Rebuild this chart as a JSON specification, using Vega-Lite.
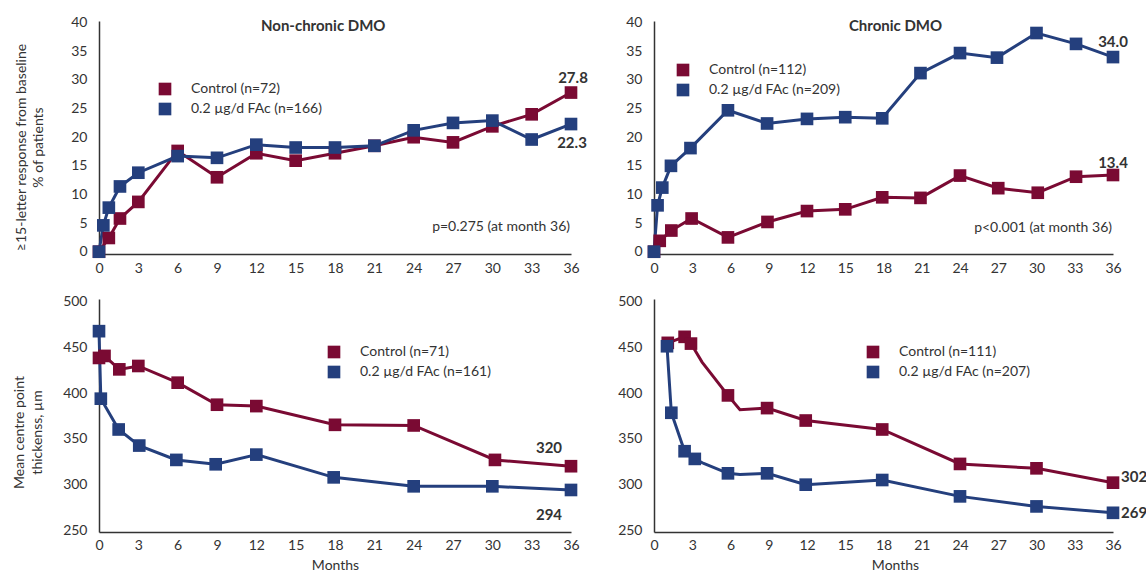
{
  "$schema": "https://vega.github.io/schema/vega-lite/v6.json",
  "padding": {"left": 12, "top": 15, "right": 0, "bottom": 0},
  "background": "white",
  "config": {
    "font": "Lato",
    "view": {"stroke": null},
    "axis": {"grid": false, "ticks": false, "domainColor": "#333333", "domainWidth": 1.5, "labelColor": "#333333", "labelFontSize": 14, "labelFont": "Lato", "titleColor": "#333333", "titleFontSize": 14, "titleFontWeight": "normal", "titleFont": "Lato", "labelFlush": false, "labelOverlap": false},
    "legend": {"disable": false, "symbolType": "square", "symbolSize": 160, "symbolStrokeWidth": 0, "labelFontSize": 14, "labelColor": "#333333", "labelFont": "Lato", "rowPadding": 6, "labelOffset": 19},
    "text": {"font": "Lato", "color": "#333333"}
  },
  "datasets": {
    "nc_bcva": [
      {"month": 0, "group": "Control", "value": 0},
      {"month": 0.75, "group": "Control", "value": 2.4},
      {"month": 1.6, "group": "Control", "value": 5.8},
      {"month": 3, "group": "Control", "value": 8.7},
      {"month": 6, "group": "Control", "value": 17.6},
      {"month": 9, "group": "Control", "value": 13.0},
      {"month": 12, "group": "Control", "value": 17.2},
      {"month": 15, "group": "Control", "value": 15.9},
      {"month": 18, "group": "Control", "value": 17.2},
      {"month": 21, "group": "Control", "value": 18.5},
      {"month": 24, "group": "Control", "value": 20.0},
      {"month": 27, "group": "Control", "value": 19.1},
      {"month": 30, "group": "Control", "value": 21.9},
      {"month": 33, "group": "Control", "value": 24.0},
      {"month": 36, "group": "Control", "value": 27.8},
      {"month": 0, "group": "FAc", "value": 0},
      {"month": 0.33, "group": "FAc", "value": 4.6},
      {"month": 0.75, "group": "FAc", "value": 7.7},
      {"month": 1.6, "group": "FAc", "value": 11.4},
      {"month": 3, "group": "FAc", "value": 13.8},
      {"month": 6, "group": "FAc", "value": 16.7},
      {"month": 9, "group": "FAc", "value": 16.4},
      {"month": 12, "group": "FAc", "value": 18.7},
      {"month": 15, "group": "FAc", "value": 18.2},
      {"month": 18, "group": "FAc", "value": 18.2},
      {"month": 21, "group": "FAc", "value": 18.5},
      {"month": 24, "group": "FAc", "value": 21.2},
      {"month": 27, "group": "FAc", "value": 22.5},
      {"month": 30, "group": "FAc", "value": 22.9},
      {"month": 33, "group": "FAc", "value": 19.6},
      {"month": 36, "group": "FAc", "value": 22.3}
    ],
    "c_bcva": [
      {"month": 0, "group": "Control", "value": 0},
      {"month": 0.45, "group": "Control", "value": 1.9},
      {"month": 1.36, "group": "Control", "value": 3.7},
      {"month": 2.95, "group": "Control", "value": 5.8},
      {"month": 5.8, "group": "Control", "value": 2.5},
      {"month": 8.9, "group": "Control", "value": 5.2},
      {"month": 12, "group": "Control", "value": 7.1},
      {"month": 15, "group": "Control", "value": 7.4},
      {"month": 17.9, "group": "Control", "value": 9.5},
      {"month": 20.9, "group": "Control", "value": 9.4},
      {"month": 24, "group": "Control", "value": 13.3},
      {"month": 27, "group": "Control", "value": 11.1},
      {"month": 30.1, "group": "Control", "value": 10.3},
      {"month": 33.1, "group": "Control", "value": 13.1},
      {"month": 36, "group": "Control", "value": 13.4},
      {"month": 0, "group": "FAc", "value": 0},
      {"month": 0.28, "group": "FAc", "value": 8.1},
      {"month": 0.65, "group": "FAc", "value": 11.2},
      {"month": 1.33, "group": "FAc", "value": 15.0},
      {"month": 2.86, "group": "FAc", "value": 18.1},
      {"month": 5.8, "group": "FAc", "value": 24.7},
      {"month": 8.87, "group": "FAc", "value": 22.4},
      {"month": 12, "group": "FAc", "value": 23.2},
      {"month": 15, "group": "FAc", "value": 23.5},
      {"month": 17.9, "group": "FAc", "value": 23.3},
      {"month": 20.9, "group": "FAc", "value": 31.2},
      {"month": 24, "group": "FAc", "value": 34.7},
      {"month": 26.9, "group": "FAc", "value": 33.9},
      {"month": 30, "group": "FAc", "value": 38.2},
      {"month": 33.1, "group": "FAc", "value": 36.3},
      {"month": 36, "group": "FAc", "value": 34.0}
    ],
    "nc_cpt": [
      {"month": 0, "group": "Control", "value": 438.5},
      {"month": 0.42, "group": "Control", "value": 440.7},
      {"month": 1.55, "group": "Control", "value": 426},
      {"month": 3, "group": "Control", "value": 429.7},
      {"month": 6, "group": "Control", "value": 411.4},
      {"month": 9, "group": "Control", "value": 387.3},
      {"month": 12, "group": "Control", "value": 385.8},
      {"month": 18, "group": "Control", "value": 365.3},
      {"month": 24, "group": "Control", "value": 364.6},
      {"month": 30.2, "group": "Control", "value": 326.9},
      {"month": 36, "group": "Control", "value": 320},
      {"month": 0, "group": "FAc", "value": 467.8},
      {"month": 0.14, "group": "FAc", "value": 393.9},
      {"month": 1.5, "group": "FAc", "value": 360.2},
      {"month": 3.07, "group": "FAc", "value": 342.6},
      {"month": 5.9, "group": "FAc", "value": 326.9},
      {"month": 8.9, "group": "FAc", "value": 322.1},
      {"month": 12, "group": "FAc", "value": 332.7},
      {"month": 17.9, "group": "FAc", "value": 307.8},
      {"month": 24, "group": "FAc", "value": 298},
      {"month": 30, "group": "FAc", "value": 298},
      {"month": 36, "group": "FAc", "value": 294}
    ],
    "c_cpt": [
      {"month": 1.08, "group": "Control", "value": 455},
      {"month": 2.4, "group": "Control", "value": 461.6},
      {"month": 2.9, "group": "Control", "value": 454.2},
      {"month": 3.77, "group": "Control", "value": 434, "visit": false},
      {"month": 5.8, "group": "Control", "value": 397.5},
      {"month": 6.74, "group": "Control", "value": 381.8, "visit": false},
      {"month": 8.87, "group": "Control", "value": 383.6},
      {"month": 11.9, "group": "Control", "value": 370},
      {"month": 17.9, "group": "Control", "value": 360.2},
      {"month": 24, "group": "Control", "value": 322.5},
      {"month": 30, "group": "Control", "value": 317.7},
      {"month": 36, "group": "Control", "value": 302},
      {"month": 1.02, "group": "FAc", "value": 451.3},
      {"month": 1.36, "group": "FAc", "value": 378.5},
      {"month": 2.4, "group": "FAc", "value": 336.4},
      {"month": 3.2, "group": "FAc", "value": 328},
      {"month": 3.9, "group": "FAc", "value": 323, "visit": false},
      {"month": 5.8, "group": "FAc", "value": 312.2},
      {"month": 6.74, "group": "FAc", "value": 311, "visit": false},
      {"month": 8.87, "group": "FAc", "value": 312.2},
      {"month": 11.9, "group": "FAc", "value": 299.8},
      {"month": 17.9, "group": "FAc", "value": 304.9},
      {"month": 24, "group": "FAc", "value": 287},
      {"month": 30, "group": "FAc", "value": 276},
      {"month": 36, "group": "FAc", "value": 269}
    ]
  },
  "columns": 2,
  "bounds": "flush",
  "align": "each",
  "spacing": {"row": 45, "column": 83},
  "resolve": {"scale": {"color": "independent", "stroke": "independent", "x": "independent", "y": "independent"}, "legend": {"color": "independent"}},
  "concat": [
    {
      "width": 472, "height": 233,
      "data": {"name": "nc_bcva"},
      "encoding": {
        "x": {"field": "month", "type": "quantitative", "scale": {"domain": [0, 36], "nice": false, "zero": false}, "axis": {"values": [0, 3, 6, 9, 12, 15, 18, 21, 24, 27, 30, 33, 36], "labelPadding": 7, "title": null}},
        "y": {"field": "value", "type": "quantitative", "scale": {"domain": [-0.4, 40.3], "nice": false, "zero": false}, "axis": {"values": [0, 5, 10, 15, 20, 25, 30, 35, 40], "labelPadding": 12, "title": ["≥15-letter response from baseline", "% of patients"], "titleX": -77.5, "titleY": 126, "titleBaseline": "middle", "titleLineHeight": 17, "titleAngle": -90}}
      },
      "layer": [
        {"mark": {"type": "line", "strokeWidth": 3}, "encoding": {"color": {"field": "group", "type": "nominal", "scale": {"domain": ["Control", "FAc"], "range": ["#7a0a33", "#243f7d"]}, "legend": {"disable": false, "orient": "none", "title": null, "legendX": 59, "legendY": 61, "symbolType": "square", "labelExpr": "datum.label == 'Control' ? 'Control (n=72)' : '0.2 µg/d FAc (n=166)'"}}}},
        {"transform": [{"filter": "datum.visit !== false"}], "mark": {"type": "point", "shape": "square", "filled": true, "size": 160, "opacity": 1}, "encoding": {"color": {"field": "group", "type": "nominal", "scale": {"domain": ["Control", "FAc"], "range": ["#7a0a33", "#243f7d"]}}}},
        {"transform": [{"filter": "datum.month == 36 && datum.group == 'Control'"}], "mark": {"type": "text", "fontWeight": "bold", "fontSize": 15, "align": "center", "baseline": "middle", "dx": 2, "dy": -15}, "encoding": {"text": {"field": "value", "type": "quantitative", "format": ".1f"}}},
        {"transform": [{"filter": "datum.month == 36 && datum.group == 'FAc'"}], "mark": {"type": "text", "fontWeight": "bold", "fontSize": 15, "align": "center", "baseline": "middle", "dx": 1, "dy": 19}, "encoding": {"text": {"field": "value", "type": "quantitative", "format": ".1f"}}},
        {"transform": [{"filter": "datum.month == 36 && datum.group == 'Control'"}], "mark": {"type": "text", "fontWeight": "bold", "fontSize": 15, "align": "center", "baseline": "middle"}, "encoding": {"text": {"value": "Non-chronic DMO"}, "x": {"datum": 17.1}, "y": {"datum": 39.43}}},
        {"transform": [{"filter": "datum.month == 36 && datum.group == 'Control'"}], "mark": {"type": "text", "fontSize": 14, "align": "right", "baseline": "middle", "dx": -1}, "encoding": {"text": {"value": "p=0.275 (at month 36)"}, "x": {"datum": 36}, "y": {"datum": 4.32}}}
      ]
    },
    {
      "width": 459, "height": 233,
      "data": {"name": "c_bcva"},
      "encoding": {
        "x": {"field": "month", "type": "quantitative", "scale": {"domain": [0, 36], "nice": false, "zero": false}, "axis": {"values": [0, 3, 6, 9, 12, 15, 18, 21, 24, 27, 30, 33, 36], "labelPadding": 7, "title": null}},
        "y": {"field": "value", "type": "quantitative", "scale": {"domain": [-0.4, 40.3], "nice": false, "zero": false}, "axis": {"values": [0, 5, 10, 15, 20, 25, 30, 35, 40], "labelPadding": 12, "title": null}}
      },
      "layer": [
        {"mark": {"type": "line", "strokeWidth": 3}, "encoding": {"color": {"field": "group", "type": "nominal", "scale": {"domain": ["Control", "FAc"], "range": ["#7a0a33", "#243f7d"]}, "legend": {"disable": false, "orient": "none", "title": null, "legendX": 22, "legendY": 42, "symbolType": "square", "labelExpr": "datum.label == 'Control' ? 'Control (n=112)' : '0.2 µg/d FAc (n=209)'"}}}},
        {"transform": [{"filter": "datum.visit !== false"}], "mark": {"type": "point", "shape": "square", "filled": true, "size": 160, "opacity": 1}, "encoding": {"color": {"field": "group", "type": "nominal", "scale": {"domain": ["Control", "FAc"], "range": ["#7a0a33", "#243f7d"]}}}},
        {"transform": [{"filter": "datum.month == 36 && datum.group == 'Control'"}], "mark": {"type": "text", "fontWeight": "bold", "fontSize": 15, "align": "center", "baseline": "middle", "dx": 0, "dy": -12}, "encoding": {"text": {"field": "value", "type": "quantitative", "format": ".1f"}}},
        {"transform": [{"filter": "datum.month == 36 && datum.group == 'FAc'"}], "mark": {"type": "text", "fontWeight": "bold", "fontSize": 15, "align": "center", "baseline": "middle", "dx": 0, "dy": -15}, "encoding": {"text": {"field": "value", "type": "quantitative", "format": ".1f"}}},
        {"transform": [{"filter": "datum.month == 36 && datum.group == 'Control'"}], "mark": {"type": "text", "fontWeight": "bold", "fontSize": 15, "align": "center", "baseline": "middle"}, "encoding": {"text": {"value": "Chronic DMO"}, "x": {"datum": 18.94}, "y": {"datum": 39.43}}},
        {"transform": [{"filter": "datum.month == 36 && datum.group == 'Control'"}], "mark": {"type": "text", "fontSize": 14, "align": "right", "baseline": "middle", "dx": -1}, "encoding": {"text": {"value": "p<0.001 (at month 36)"}, "x": {"datum": 36}, "y": {"datum": 4.2}}}
      ]
    },
    {
      "width": 472, "height": 233,
      "data": {"name": "nc_cpt"},
      "encoding": {
        "x": {"field": "month", "type": "quantitative", "scale": {"domain": [0, 36], "nice": false, "zero": false}, "axis": {"values": [0, 3, 6, 9, 12, 15, 18, 21, 24, 27, 30, 33, 36], "labelPadding": 6, "title": "Months", "titlePadding": 6}},
        "y": {"field": "value", "type": "quantitative", "scale": {"domain": [248, 503], "nice": false, "zero": false}, "axis": {"values": [250, 300, 350, 400, 450, 500], "labelPadding": 12, "title": ["Mean centre point", "thickenss, µm"], "titleX": -79.5, "titleY": 133, "titleBaseline": "middle", "titleLineHeight": 18, "titleAngle": -90}}
      },
      "layer": [
        {"mark": {"type": "line", "strokeWidth": 3}, "encoding": {"color": {"field": "group", "type": "nominal", "scale": {"domain": ["Control", "FAc"], "range": ["#7a0a33", "#243f7d"]}, "legend": {"disable": false, "orient": "none", "title": null, "legendX": 228, "legendY": 46, "symbolType": "square", "labelExpr": "datum.label == 'Control' ? 'Control (n=71)' : '0.2 µg/d FAc (n=161)'"}}}},
        {"transform": [{"filter": "datum.visit !== false"}], "mark": {"type": "point", "shape": "square", "filled": true, "size": 160, "opacity": 1}, "encoding": {"color": {"field": "group", "type": "nominal", "scale": {"domain": ["Control", "FAc"], "range": ["#7a0a33", "#243f7d"]}}}},
        {"transform": [{"filter": "datum.month == 36 && datum.group == 'Control'"}], "mark": {"type": "text", "fontWeight": "bold", "fontSize": 15, "align": "center", "baseline": "middle", "dx": -22, "dy": -18}, "encoding": {"text": {"field": "value", "type": "quantitative", "format": "d"}}},
        {"transform": [{"filter": "datum.month == 36 && datum.group == 'FAc'"}], "mark": {"type": "text", "fontWeight": "bold", "fontSize": 15, "align": "center", "baseline": "middle", "dx": -22, "dy": 25}, "encoding": {"text": {"field": "value", "type": "quantitative", "format": "d"}}}
      ]
    },
    {
      "width": 459, "height": 233,
      "data": {"name": "c_cpt"},
      "encoding": {
        "x": {"field": "month", "type": "quantitative", "scale": {"domain": [0, 36], "nice": false, "zero": false}, "axis": {"values": [0, 3, 6, 9, 12, 15, 18, 21, 24, 27, 30, 33, 36], "labelPadding": 6, "title": "Months", "titlePadding": 6, "titleX": 241}},
        "y": {"field": "value", "type": "quantitative", "scale": {"domain": [248, 503], "nice": false, "zero": false}, "axis": {"values": [250, 300, 350, 400, 450, 500], "labelPadding": 12, "title": null}}
      },
      "layer": [
        {"mark": {"type": "line", "strokeWidth": 3}, "encoding": {"color": {"field": "group", "type": "nominal", "scale": {"domain": ["Control", "FAc"], "range": ["#7a0a33", "#243f7d"]}, "legend": {"disable": false, "orient": "none", "title": null, "legendX": 212, "legendY": 46, "symbolType": "square", "labelExpr": "datum.label == 'Control' ? 'Control (n=111)' : '0.2 µg/d FAc (n=207)'"}}}},
        {"transform": [{"filter": "datum.visit !== false"}], "mark": {"type": "point", "shape": "square", "filled": true, "size": 160, "opacity": 1}, "encoding": {"color": {"field": "group", "type": "nominal", "scale": {"domain": ["Control", "FAc"], "range": ["#7a0a33", "#243f7d"]}}}},
        {"transform": [{"filter": "datum.month == 36 && datum.group == 'Control'"}], "mark": {"type": "text", "fontWeight": "bold", "fontSize": 15, "align": "left", "baseline": "middle", "dx": 8, "dy": -6}, "encoding": {"text": {"field": "value", "type": "quantitative", "format": "d"}}},
        {"transform": [{"filter": "datum.month == 36 && datum.group == 'FAc'"}], "mark": {"type": "text", "fontWeight": "bold", "fontSize": 15, "align": "left", "baseline": "middle", "dx": 8, "dy": 0}, "encoding": {"text": {"field": "value", "type": "quantitative", "format": "d"}}}
      ]
    }
  ]
}
